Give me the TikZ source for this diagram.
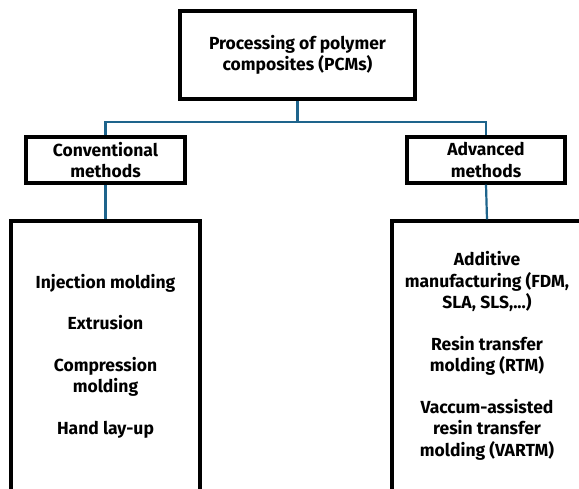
\documentclass[tikz,border=0pt]{standalone}
\usepackage{fontspec}
\setmainfont{Fira Sans}
\definecolor{connblue}{RGB}{30,100,140}
\begin{document}
\begin{tikzpicture}[x=1pt,y=-1pt,
  box/.style={draw=black,line width=3.2pt,fill=white,align=center,inner sep=0pt,
    font=\bfseries\fontsize{17.5}{21.5}\selectfont},
  conn/.style={draw=connblue,line width=2.2pt}]
\useasboundingbox (0,0) rectangle (579,488);
\clip (0,0) rectangle (579,488);
\fill[white] (0,0) rectangle (579,488);
\node[box,minimum width=235pt,minimum height=88pt] (top) at (297.5,55)
  {Processing of polymer\\composites (PCMs)};
\node[box,minimum width=159pt,minimum height=46pt] (conv) at (105.5,160)
  {Conventional\\methods};
\node[box,minimum width=158pt,minimum height=46pt] (adv) at (486,160)
  {Advanced\\methods};
\node[box,minimum width=189pt,minimum height=270pt] (convlist) at (105.5,356)
  {Injection molding\\[20pt]Extrusion\\[20pt]Compression\\molding\\[20pt]Hand lay-up};
\node[box,minimum width=190pt,minimum height=270pt] (advlist) at (487,356)
  {Additive\\manufacturing (FDM,\\SLA, SLS,...)\\[20pt]Resin transfer\\molding (RTM)\\[20pt]Vaccum-assisted\\resin transfer\\molding (VARTM)};
\coordinate (j) at (297.5,122);
\draw[conn] (top.south) -- (j);
\draw[conn] (conv.north) |- (j) -| (adv.north);
\draw[conn] (conv.south) -- (convlist.north);
\draw[conn] (adv.south) -- (advlist.north);
\end{tikzpicture}
\end{document}
